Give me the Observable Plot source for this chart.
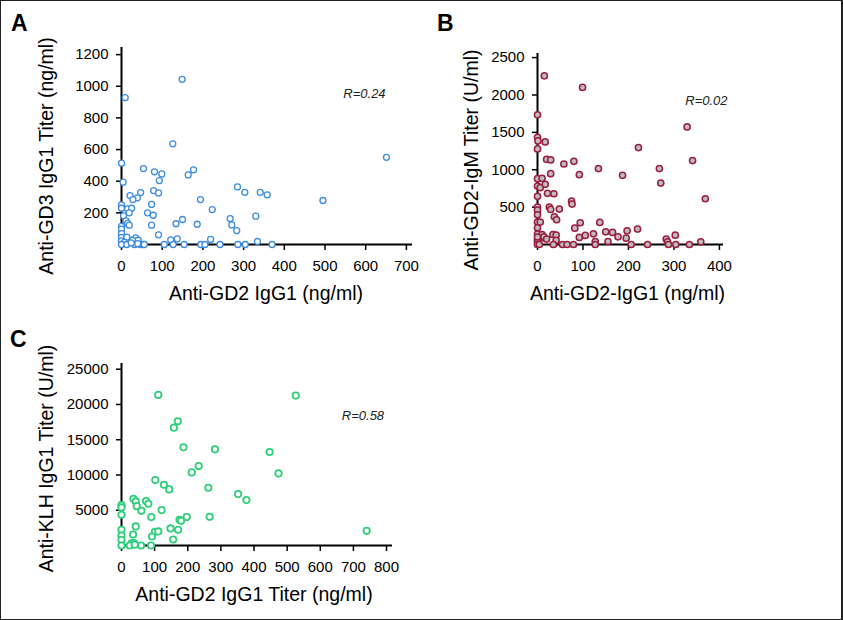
<!DOCTYPE html>
<html><head><meta charset="utf-8">
<script src="https://cdn.jsdelivr.net/npm/d3@7"></script>
<script src="https://cdn.jsdelivr.net/npm/@observablehq/plot@0.6"></script>
<style>
body{margin:0;background:#fff;}
#fig{position:relative;width:843px;height:620px;overflow:hidden;background:#fff;font-family:"Liberation Sans",Arial,Helvetica,sans-serif;}
#fig svg{position:absolute;left:0;top:0;}
.lab{position:absolute;font-weight:bold;font-size:23px;line-height:1;color:#000;}
#frame{position:absolute;left:0;top:0;width:843px;height:620px;box-sizing:border-box;border:1px solid #222;border-right-width:2px;pointer-events:none;}
</style></head>
<body><div id="fig"></div>
<script>
// ---------- Panel A: Anti-GD2 IgG1 vs Anti-GD3 IgG1 ----------
const gd2A = [149,9,126,651,0,54,81,99,177,164,93,4,79,91,47,21,39,28,285,303,341,358,194,495,74,0,0,15,25,19,64,78,5,223,267,330,150,134,186,271,74,11,15,19,0,0,283,91,0,0,13,35,41,27,137,121,219,334,0,7,0,13,32,46,53,56,105,127,154,195,205,242,286,304,370,24,40];
const gd3A = [1044,928,636,551,514,480,459,446,472,440,404,394,341,326,328,309,295,284,364,330,330,314,284,278,253,250,229,225,229,200,200,185,181,221,164,179,158,131,128,124,122,149,133,122,114,97,88,61,69,44,46,42,27,27,36,29,32,19,23,13,0,0,0,0,0,0,0,0,0,0,0,0,0,0,0,10,5];
const xTicksA = [0,100,200,300,400,500,600,700];
const yTicksA = [200,400,600,800,1000,1200];

// ---------- Panel B: Anti-GD2 IgG1 vs Anti-GD2 IgM ----------
const gd2B = [15,99,0,329,0,1,17,0,222,341,20,29,58,80,134,268,29,92,187,271,0,10,0,6,17,0,22,36,75,76,369,0,26,29,48,0,0,37,42,0,6,94,137,82,0,0,10,14,14,20,34,41,41,92,105,123,150,165,177,197,195,220,127,155,283,286,303,359,0,0,0,35,55,65,79,127,206,242,288,304,334,0,4];
const igmB = [2257,2101,1734,1573,1435,1386,1372,1278,1296,1122,1140,1131,1077,1113,1015,1015,948,934,925,822,881,885,782,760,805,644,684,679,581,541,612,501,501,469,474,460,398,371,331,300,300,291,295,219,224,139,134,89,103,72,134,125,54,94,121,143,170,161,103,183,85,206,40,40,72,36,125,36,63,36,0,0,0,0,0,0,0,0,0,0,0,100,0];
const xTicksB = [0,100,200,300,400];
const yTicksB = [500,1000,1500,2000,2500];

// ---------- Panel C: Anti-GD2 IgG1 vs Anti-KLH IgG1 ----------
const gd2C = [111,526,170,158,187,282,447,233,212,474,102,128,144,262,352,377,36,43,74,81,46,0,0,60,121,0,90,175,180,197,266,43,0,35,101,111,92,148,171,156,740,0,0,31,38,0,25,59,89,40];
const klhC = [21355,21260,17614,16715,13921,13637,13258,11270,10370,10228,9281,8618,7955,8192,7292,6440,6629,6250,6298,5919,5587,5729,5398,4924,5019,4356,4025,3646,3504,4025,4072,2699,2225,1563,1941,1989,1278,2415,2225,852,2083,1420,805,331,331,0,0,0,0,120];
const xTicksC = [0,100,200,300,400,500,600,700,800];
const yTicksC = [5000,10000,15000,20000,25000];

// correlation notes
const notes = [
  {panel: "A", text: "R=0.24", x: 545, y: 954},
  {panel: "B", text: "R=0.02", x: 325, y: 1919},
  {panel: "C", text: "R=0.58", x: 665, y: 18324}
];

const FONT = '"Liberation Sans", Arial, Helvetica, sans-serif';

function panel(cfg) {
  const data = cfg.xs.map((x, i) => ({x, y: cfg.ys[i]}));
  const note = notes.filter(n => n.panel === cfg.id);
  return Plot.plot({
    width: 843, height: 620,
    marginLeft: cfg.m[0], marginRight: cfg.m[1], marginTop: cfg.m[2], marginBottom: cfg.m[3],
    style: {background: "transparent", fontFamily: FONT, color: "#000", overflow: "visible"},
    x: {domain: cfg.xDomain},
    y: {domain: cfg.yDomain},
    marks: [
      Plot.axisX(cfg.xTicks, {tickSize: 6, tickPadding: 10, tickFormat: "d", fontSize: 15, strokeWidth: 1.5, label: null}),
      Plot.axisY(cfg.yTicks, {tickSize: 5, tickPadding: 8, tickFormat: "d", fontSize: 15, strokeWidth: 1.5, label: null}),
      Plot.ruleX([0], {strokeWidth: 2, stroke: "#000"}),
      Plot.ruleY([0], {strokeWidth: 2, stroke: "#000"}),
      Plot.dot(data, {x: "x", y: "y", r: cfg.r, stroke: cfg.stroke, fill: cfg.fill, strokeWidth: cfg.sw}),
      Plot.text([cfg.yTitle], {text: d => d, frameAnchor: "left", textAnchor: "middle", lineAnchor: "middle", rotate: -90, dx: cfg.yt[0], dy: cfg.yt[1], fontSize: 19.5}),
      Plot.text([cfg.xTitle], {text: d => d, frameAnchor: "bottom", textAnchor: "middle", lineAnchor: "middle", dx: cfg.xt[0], dy: cfg.xt[1], fontSize: 19.5}),
      Plot.text(note, {x: "x", y: "y", text: "text", textAnchor: "start", fontStyle: "italic", fontSize: 13, fill: "#222"})
    ]
  });
}

const fig = document.getElementById("fig");

fig.appendChild(panel({
  id: "A", xs: gd2A, ys: gd3A, xDomain: [0, 715], yDomain: [0, 1245],
  xTicks: xTicksA, yTicks: yTicksA, m: [121, 431, 47, 376],
  r: 3, stroke: "#3d8be0", fill: "white", sw: 1.3,
  xTitle: "Anti-GD2 IgG1 (ng/ml)", yTitle: "Anti-GD3 IgG1 Titer (ng/ml)",
  xt: [-1, 49], yt: [-75, 10]
}));

fig.appendChild(panel({
  id: "B", xs: gd2B, ys: igmB, xDomain: [0, 409], yDomain: [0, 2555],
  xTicks: xTicksB, yTicks: yTicksB, m: [537, 120, 53, 376],
  r: 3.1, stroke: "#9c1c3f", fill: "#bdbdbd", sw: 1.5,
  xTitle: "Anti-GD2-IgG1 (ng/ml)", yTitle: "Anti-GD2-IgM Titer (U/ml)",
  xt: [-3, 49], yt: [-66, 11]
}));

fig.appendChild(panel({
  id: "C", xs: gd2C, ys: klhC, xDomain: [0, 818], yDomain: [0, 25810],
  xTicks: xTicksC, yTicks: yTicksC, m: [121, 451, 363, 75],
  r: 3.2, stroke: "#2fcf7a", fill: "white", sw: 1.8,
  xTitle: "Anti-GD2 IgG1 Titer (ng/ml)", yTitle: "Anti-KLH IgG1 Titer (U/ml)",
  xt: [-3, 49], yt: [-75, 4]
}));

for (const [t, l, tp] of [["A", 11, 12], ["B", 437, 12], ["C", 10, 328]]) {
  const d = document.createElement("div");
  d.className = "lab"; d.textContent = t;
  d.style.left = l + "px"; d.style.top = tp + "px";
  fig.appendChild(d);
}
const fr = document.createElement("div"); fr.id = "frame"; fig.appendChild(fr);
</script>
</body></html>
